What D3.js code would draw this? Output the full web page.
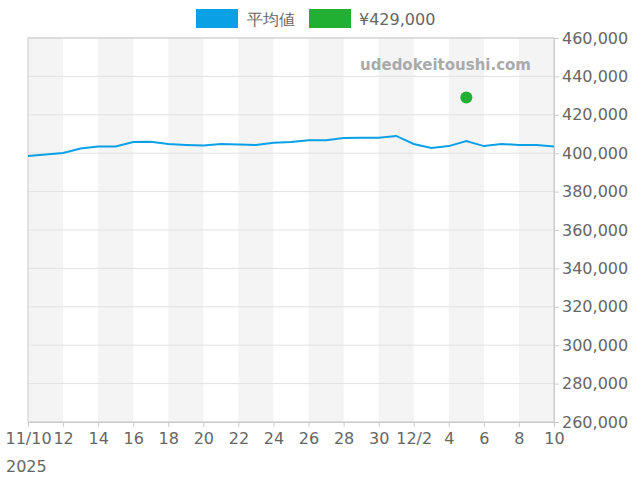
<!DOCTYPE html>
<html><head><meta charset="utf-8">
<script src="https://cdn.jsdelivr.net/npm/d3@7"></script>
<style>body{margin:0;background:#fff}text{font-family:"DejaVu Sans",sans-serif}</style>
</head><body><svg id="c" width="640" height="480"></svg>
<script>
const startDate = "2025-11-10";
const avgValues = [398500,399300,400100,402400,403500,403500,405800,406000,404800,404300,404000,404800,404500,404300,405500,405800,406800,406800,407900,408100,408100,409000,404800,402700,403700,406300,403700,404800,404300,404300,403500];
const pointDates = ["2025-12-05"];
const pointValues = [429000];
const yTicks = [260000,280000,300000,320000,340000,360000,380000,400000,420000,440000,460000];
const seriesNames = ["平均値","¥429,000"];

const svg = d3.select("#c");
const m = {l:28, r:554, t:38, b:422};
const parse = d3.utcParse("%Y-%m-%d");
const d0 = parse(startDate);
const dates = avgValues.map((v,i)=>d3.utcDay.offset(d0,i));
const x = d3.scaleUtc().domain([d0, dates[dates.length-1]]).range([m.l,m.r]);
const y = d3.scaleLinear().domain([260000,460000]).range([m.b,m.t]);

for(let i=0;i<dates.length-1;i+=4){
  const a=dates[i], b=d3.utcDay.offset(a,2);
  svg.append("rect").attr("x",x(a)).attr("y",m.t).attr("width",x(b)-x(a)).attr("height",m.b-m.t).attr("fill","#f4f4f4");
}
yTicks.forEach(t=>svg.append("line").attr("x1",m.l).attr("x2",m.r).attr("y1",y(t)).attr("y2",y(t)).attr("stroke","#e2e2e2"));
svg.append("rect").attr("x",m.l).attr("y",m.t).attr("width",m.r-m.l).attr("height",m.b-m.t).attr("fill","none").attr("stroke","#ccc");

svg.append("text").attr("x",531).attr("y",70).attr("text-anchor","end").attr("fill","#aaa").attr("font-size",15).attr("font-weight","bold").text("udedokeitoushi.com");

svg.append("path").datum(avgValues).attr("fill","none").attr("stroke","#0aa0e6").attr("stroke-width",2)
  .attr("d",d3.line().x((d,i)=>x(dates[i])).y(d=>y(d)));
svg.selectAll(".pt").data(pointValues).enter().append("circle").attr("cx",(d,i)=>x(parse(pointDates[i]))).attr("cy",d=>y(d)).attr("r",6).attr("fill","#22b033");

const ya = svg.append("g").attr("transform",`translate(${m.r},0)`).call(d3.axisRight(y).tickValues(yTicks).tickFormat(d3.format(",")).tickSize(5));
ya.select(".domain").attr("stroke","#ccc");
ya.selectAll("line").attr("stroke","#ccc");
ya.selectAll("text").attr("font-size",16).attr("fill","#666").attr("x",8);

const xt = dates.filter((d,i)=>i%2==0);
const xa = svg.append("g").attr("transform",`translate(0,${m.b})`).call(d3.axisBottom(x).tickValues(xt).tickSize(5)
  .tickFormat(d=>{const day=d.getUTCDate(),mo=d.getUTCMonth()+1; return (+d===+d0)?"11/10":(day===2&&mo===12?"12/2":day);}));
xa.select(".domain").attr("stroke","#ccc");
xa.selectAll("line").attr("stroke","#ccc");
xa.selectAll("text").attr("font-size",16).attr("fill","#666").attr("dy","0.9em");
svg.append("text").attr("x",6).attr("y",472).attr("font-size",16).attr("fill","#666").text("2025");

const lg = svg.append("g");
lg.append("rect").attr("x",196).attr("y",9).attr("width",42).attr("height",19).attr("fill","#0aa0e6");
lg.append("text").attr("x",247).attr("y",25).attr("font-size",16).attr("fill","#666").text(seriesNames[0]);
lg.append("rect").attr("x",309).attr("y",9).attr("width",42).attr("height",19).attr("fill","#22b033");
lg.append("text").attr("x",359).attr("y",25).attr("font-size",16).attr("fill","#666").text(seriesNames[1]);
</script></body></html>
